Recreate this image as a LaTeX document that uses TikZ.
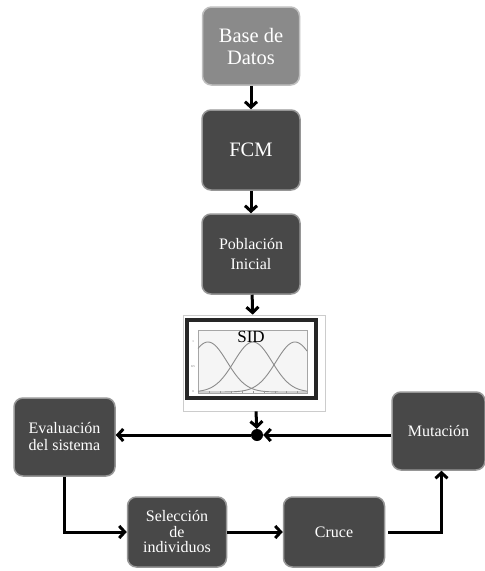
\documentclass[tikz,border=0pt]{standalone}
\usepackage{fontspec}
\setmainfont{Liberation Serif}
\usepackage{xcolor}
\usetikzlibrary{arrows.meta, positioning, calc}
\definecolor{boxdark}{RGB}{72, 72, 72}
\definecolor{boxlight}{RGB}{138, 138, 138}
\definecolor{boxedge}{RGB}{150, 150, 150}

\begin{document}
\begin{tikzpicture}[x=1pt, y=-1pt,
    stage/.style={rectangle, rounded corners=9pt, draw=boxedge, line width=1.5pt, fill=boxdark, text=white, align=center},
    flow/.style={-{Straight Barb[length=5.5pt, width=12pt]}, line width=3pt, black}]
        \useasboundingbox (0,0) rectangle (485,571);

        % Upper chain
        \node[stage, fill=boxlight, draw=black!25, minimum width=97pt, minimum height=78pt, font=\fontsize{20.5}{22}\selectfont] (base) at (251, 46) {Base de\\Datos};
        \node[stage, minimum width=98pt, minimum height=80pt, font=\fontsize{20.5}{22}\selectfont] (fcm) at (251, 150) {FCM};
        \node[stage, minimum width=98pt, minimum height=80pt, font=\fontsize{16}{20.5}\selectfont] (pob) at (251, 254) {Población\\Inicial};

        % SID picture
        \node[rectangle, draw=black!20, fill=white, line width=0.8pt, minimum width=142pt, minimum height=96pt] (sid) at (254, 363) {};
        \draw[line width=4.5pt, black!85] (187, 320) rectangle (316, 398);
        \fill[black!4] (198, 330) rectangle (307, 393);
        \draw[black!35, line width=0.4pt] (198, 330) rectangle (307, 393);
        \foreach \c in {208, 253, 295} {
            \draw[black!45, line width=0.9pt] plot[domain=198:307, samples=70] (\x, {392-50*exp(-((\x-\c)^2)/722)});
        }
        \foreach \t in {209, 220, ..., 300} {
            \draw[black!40, line width=0.3pt] (\t, 393) -- (\t, 391);
        }
        \node[font=\fontsize{3}{3}\selectfont, text=black!60, inner sep=0pt] (ya) at (193, 342) {1};
        \node[font=\fontsize{3}{3}\selectfont, text=black!60, inner sep=0pt] (yb) at (193, 367) {0.5};
        \node[font=\fontsize{3}{3}\selectfont, text=black!60, inner sep=0pt] (yc) at (193, 392) {0};
        \node[font=\fontsize{17}{17}\selectfont, inner sep=0pt] (sidlabel) at (251, 337) {SID};

        % Junction
        \node[circle, fill=black, inner sep=0pt, minimum size=12pt] (dot) at (257, 435) {};

        % Loop stages
        \node[stage, minimum width=101pt, minimum height=78pt, font=\fontsize{16}{17}\selectfont] (eval) at (64.5, 437) {Evaluación\\del sistema};
        \node[stage, minimum width=99pt, minimum height=70pt, font=\fontsize{16}{15.5}\selectfont] (sel) at (177, 532) {Selección\\de\\individuos};
        \node[stage, minimum width=101pt, minimum height=70pt, font=\fontsize{16}{17}\selectfont] (cruce) at (334, 532) {Cruce};
        \node[stage, minimum width=93pt, minimum height=78pt, font=\fontsize{16}{17}\selectfont] (mut) at (438.5, 431) {Mutación};

        % Arrows
        \draw[flow] (base) -- (fcm);
        \draw[flow] (fcm) -- (pob);
        \draw[flow] (pob) -- (sid);
        \draw[flow] (sid) -- (dot);
        \draw[flow] (mut.west |- dot) -- (dot);
        \draw[flow] (dot) -- (dot -| eval.east);
        \draw[flow] (eval.south) |- (sel.west);
        \draw[flow] (sel) -- (cruce);
        \draw[flow] ([xshift=3pt]cruce.east) -| ([xshift=3pt]mut.south);
    \end{tikzpicture}
\end{document}
